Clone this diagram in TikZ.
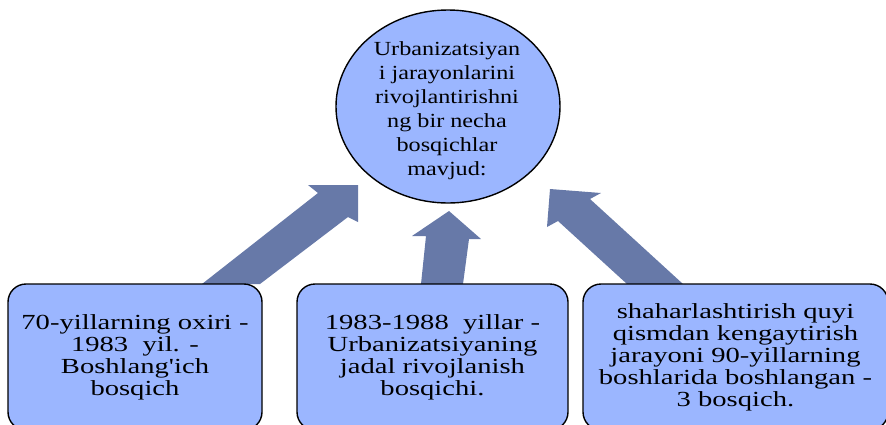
\documentclass[tikz,border=0pt]{standalone}
\usepackage{fontspec}
\setmainfont{Liberation Serif}
\usepackage{graphicx}
\usetikzlibrary{shapes.geometric}
\definecolor{boxfill}{RGB}{155,182,255}
\definecolor{arrowfill}{RGB}{103,121,168}
\newcommand\bx[1]{\scalebox{1.33}[1]{#1}}
\newcommand\ex[1]{\scalebox{1.21}[1]{#1}}
\begin{document}
\begin{tikzpicture}[x=1pt,y=-1pt,
  stagebox/.style={draw=black, line width=1.4pt, rounded corners=18pt, fill=boxfill,
    minimum height=146pt, align=center, inner sep=0pt,
    font=\fontsize{21.5}{22}\selectfont},
  blockarrow/.style={fill=arrowfill}]
\useasboundingbox (0,0) rectangle (886,424);
% block arrows
\fill[blockarrow] (202,284) -- (318,193) -- (308,185) -- (358,185) -- (358,222) -- (348,217) -- (260,284) -- cycle;
\fill[blockarrow] (421,284) -- (426,236) -- (412,236) -- (449,211) -- (481,239) -- (469,239) -- (463,284) -- cycle;
\fill[blockarrow] (683,284) -- (590,199) -- (601,193) -- (550,189) -- (547,227) -- (558,221) -- (627,284) -- cycle;
% centre ellipse
\node[ellipse, draw=black, line width=1.4pt, fill=boxfill, minimum width=224pt, minimum height=193pt, inner sep=0pt] (c) at (448,106.5) {};
\node[align=center, inner sep=0pt, font=\fontsize{20}{24}\selectfont] (ct) at (447,110.5)
  {\ex{Urbanizatsiyan}\\ \ex{i jarayonlarini}\\ \ex{rivojlantirishni}\\ \ex{ng bir necha}\\ \ex{bosqichlar}\\ \ex{mavjud:}};
% stage boxes
\node[stagebox, minimum width=254pt] (b1) at (135,357)
  {\bx{70-yillarning\ oxiri -}\\ \bx{1983\ \ yil. -}\\ \bx{Boshlang\textquotesingle ich}\\ \bx{bosqich}};
\node[stagebox, minimum width=271pt] (b2) at (432.5,357)
  {\bx{1983-1988\ \ yillar -}\\ \bx{Urbanizatsiyaning}\\ \bx{jadal rivojlanish}\\ \bx{bosqichi.}};
\node[stagebox, minimum width=305pt] (b3) at (735.5,357)
  {\bx{shaharlashtirish quyi}\\ \bx{qismdan kengaytirish}\\ \bx{jarayoni 90-yillarning}\\ \bx{boshlarida boshlangan -}\\ \bx{3 bosqich.}};
\end{tikzpicture}
\end{document}
